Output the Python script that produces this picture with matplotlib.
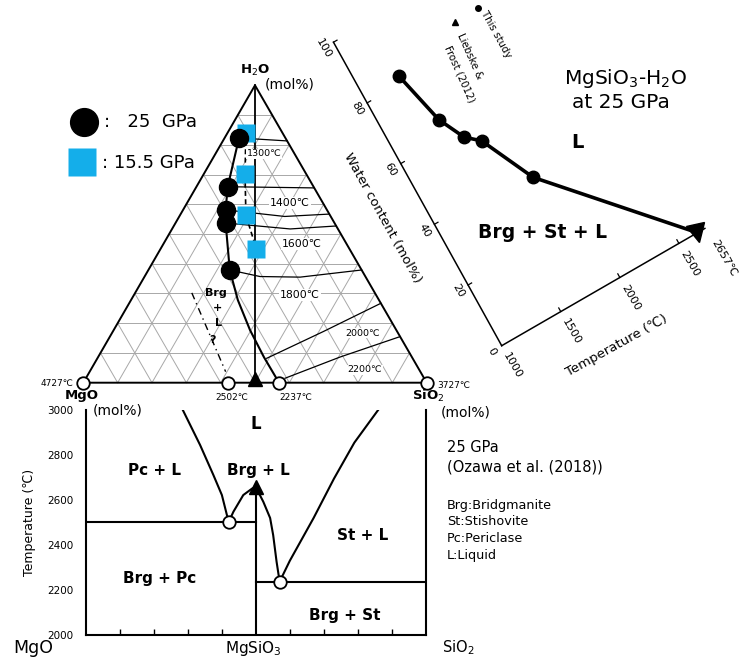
import numpy as np
import matplotlib
matplotlib.use('Agg')
import matplotlib.pyplot as plt
from matplotlib.transforms import Affine2D
from matplotlib.markers import MarkerStyle

# ---------------- data ----------------
# Ternary MgO-SiO2-H2O (mole fractions of H2O and SiO2)
c25_h2o = [0.823, 0.659, 0.581, 0.537, 0.379]          # 25 GPa liquid (black circles)
c25_sio2 = [0.042, 0.091, 0.124, 0.146, 0.237]
c25_tail_h2o = [0.379, 0.278, 0.177, 0.086, 0.0]       # cotectic down to eutectic
c25_tail_sio2 = [0.237, 0.311, 0.397, 0.483, 0.57]
c155_h2o = [0.841, 0.702, 0.563, 0.450]                # 15.5 GPa (blue squares)
c155_sio2 = [0.053, 0.120, 0.192, 0.279]
dd_h2o = [0.302, 0.037]                                # dash-dot Brg+L boundary
dd_sio2 = [0.165, 0.396]
iso_labels = ['1300℃', '1400℃', '1500℃', '1600℃', '1800℃', '2000℃', '2200℃']
iso_h2o = [[0.823, 0.813], [0.659, 0.655], [0.581, 0.559, 0.567], [0.537, 0.517, 0.527],
           [0.379, 0.357, 0.355, 0.379], [0.082, 0.172, 0.267], [0.015, 0.086, 0.155]]
iso_sio2 = [[0.042, 0.187], [0.091, 0.345], [0.124, 0.307, 0.433], [0.146, 0.344, 0.473],
            [0.237, 0.336, 0.454, 0.621], [0.493, 0.613, 0.733], [0.580, 0.704, 0.845]]
eut1_x, eut1_T = 0.42, 2502
eut2_x, eut2_T = 0.57, 2237
brg_x, brg_T = 0.5, 2657
mgo_T, sio2_T = 4727, 3727

# MgSiO3-H2O at 25 GPa
tw_T = [1300, 1400, 1500, 1600, 1800]
tw_W = [82.0, 65.5, 57.5, 54.0, 37.5]
lf_T, lf_W = 2657, 0.0
T_ticks = [1000, 1500, 2000, 2500]
W_ticks = [0, 20, 40, 60, 80, 100]

# MgO-SiO2 binary at 25 GPa (x = SiO2 mole fraction)
pcl_x = [0.285, 0.336, 0.375, 0.400, 0.42]
pcl_T = [3000, 2844, 2711, 2622, 2502]
brgl_x = [0.42, 0.434, 0.463, 0.49, 0.50, 0.522, 0.542, 0.551, 0.561, 0.57]
brgl_T = [2502, 2548, 2622, 2652, 2657, 2592, 2520, 2444, 2326, 2237]
stl_x = [0.57, 0.60, 0.67, 0.73, 0.79, 0.86]
stl_T = [2237, 2330, 2520, 2695, 2855, 3000]
bin_yticks = [2000, 2200, 2400, 2600, 2800, 3000]

BLUE = '#14AEEA'
GRID = '#a8a8a8'

W, H = 741, 657
fig = plt.figure(figsize=(W / 100, H / 100), dpi=100)
plt.rcParams['font.family'] = ['DejaVu Sans']


def fx(px):
    return px / W


def fy(py):
    return 1 - py / H


# overlay axes in pixel units (for text and the rotated diagram)
axo = fig.add_axes([0, 0, 1, 1], zorder=5)
axo.set_xlim(0, W)
axo.set_ylim(H, 0)
axo.axis('off')

# ---------------- ternary ----------------
TX0, TY0, TL = 83.3, 382.7, 343.4
TH = TL * np.sqrt(3) / 2
axt = fig.add_axes([fx(TX0), fy(TY0), TL / W, TH / H], zorder=2)
axt.set_xlim(0, 1)
axt.set_ylim(0, np.sqrt(3) / 2)
axt.axis('off')


def tern(h2o, sio2):
    h = np.asarray(h2o, float)
    s = np.asarray(sio2, float)
    return s + h / 2, h * np.sqrt(3) / 2


for i in range(1, 10):
    v = i / 10
    for hh, ss in (([v, v], [0, 1 - v]), ([0, 1 - v], [v, v]), ([0, 1 - v], [1 - v, 0])):
        x, y = tern(hh, ss)
        axt.plot(x, y, color=GRID, lw=0.7, zorder=1, clip_on=False)

x, y = tern([0, 0, 1, 0], [0, 1, 0, 0])
axt.plot(x, y, color='black', lw=1.4, zorder=3, clip_on=False)
x, y = tern([1, 0], [0, 0.5])
axt.plot(x, y, color='black', lw=1.3, zorder=3, clip_on=False)

for hh, ss in zip(iso_h2o, iso_sio2):
    x, y = tern(hh, ss)
    axt.plot(x, y, color='black', lw=0.9, zorder=3, clip_on=False)

x, y = tern(c25_h2o + c25_tail_h2o[1:], c25_sio2 + c25_tail_sio2[1:])
axt.plot(x, y, color='black', lw=1.5, zorder=4, clip_on=False)
x, y = tern(c155_h2o, c155_sio2)
axt.plot(x, y, color='black', lw=1.2, ls=(0, (3, 2)), zorder=4, clip_on=False)
x, y = tern(dd_h2o, dd_sio2)
axt.plot(x, y, color='black', lw=1.0, ls=(0, (5, 3, 1, 3)), zorder=4, clip_on=False)

x, y = tern(c155_h2o, c155_sio2)
axt.plot(x, y, 's', color=BLUE, ms=13, mec='none', zorder=5, clip_on=False)
x, y = tern(c25_h2o, c25_sio2)
axt.plot(x, y, 'o', color='black', ms=13, zorder=6, clip_on=False)

x, y = tern([0, 0, 0, 0], [0, eut1_x, eut2_x, 1])
axt.plot(x, y, 'o', mfc='white', mec='black', mew=1.3, ms=9, zorder=6, clip_on=False)
x, y = tern([0], [0.5])
axt.plot(x, y + 0.012, '^', color='black', ms=10, zorder=6, clip_on=False)

# ternary texts
axo.text(255, 70, 'H$_2$O', fontsize=9.5, fontweight='bold', ha='center', va='center')
axo.text(290, 84, '(mol%)', fontsize=10, ha='center', va='center')
axo.text(82, 396, 'MgO', fontsize=9.5, fontweight='bold', ha='center', va='center')
axo.text(428, 396, 'SiO$_2$', fontsize=9.5, fontweight='bold', ha='center', va='center')
axo.text(118, 410, '(mol%)', fontsize=10, ha='center', va='center')
axo.text(466, 412, '(mol%)', fontsize=10, ha='center', va='center')
axo.text(73, 383, f'{mgo_T}℃', fontsize=6.5, ha='right', va='center')
axo.text(437, 385, f'{sio2_T}℃', fontsize=6.5, ha='left', va='center')
axo.text(232, 398, f'{eut1_T}℃', fontsize=6.5, ha='center', va='center')
axo.text(296, 398, f'{eut2_T}℃', fontsize=6.5, ha='center', va='center')
lab_pos = {'1300℃': (264, 154, 6.8), '1400℃': (290, 203, 7.8), '1600℃': (302, 244, 7.8),
           '1800℃': (300, 295, 7.8), '2000℃': (363, 333, 6.8), '2200℃': (365, 370, 6.8)}
for lab, (px, py, fs) in lab_pos.items():
    axo.text(px, py, lab, fontsize=fs, ha='center', va='center',
             bbox=dict(facecolor='white', edgecolor='none', pad=0.6))
for txt, px, py in (('Brg', 216, 293), ('+', 218, 308), ('L', 218, 323), ('?', 213, 340)):
    axo.text(px, py, txt, fontsize=8, fontweight='bold', ha='center', va='center')

# legend of ternary
axo.plot([84], [122], 'o', color='black', ms=20, clip_on=False)
axo.plot([82], [162], 's', color=BLUE, ms=20, mec='none', clip_on=False)
axo.text(104, 122, ':   25  GPa', fontsize=13, ha='left', va='center')
axo.text(102, 163, ': 15.5 GPa', fontsize=13, ha='left', va='center')

# ---------------- rotated T - water diagram ----------------
angT = np.deg2rad(30)     # direction of temperature axis
angW = np.deg2rad(119)    # direction of water-content axis
kT, kW = 0.1364, 3.47
OX, OY = 501.7, 345.7
tr = (Affine2D().translate(-1000, 0).scale(kT, kW)
      + Affine2D.from_values(np.cos(angT), -np.sin(angT), np.cos(angW), -np.sin(angW), OX, OY)
      + axo.transData)

axo.plot([1000, 1000], [0, 100], color='black', lw=1.1, transform=tr, clip_on=False)
axo.plot([1000, 2720], [0, 0], color='black', lw=1.1, transform=tr, clip_on=False)
for w in W_ticks[1:]:
    axo.plot([1000, 1030], [w, w], color='black', lw=0.9, transform=tr, clip_on=False)
for t in T_ticks[1:]:
    axo.plot([t, t], [0, 1.2], color='black', lw=0.9, transform=tr, clip_on=False)
for w in W_ticks:
    axo.annotate(str(w), xy=(1000, w), xycoords=tr, xytext=(-10, -6),
                 textcoords='offset pixels', rotation=-60, ha='center', va='center', fontsize=8)
for t in T_ticks:
    axo.annotate(str(t), xy=(t, 0), xycoords=tr, xytext=(11, -20),
                 textcoords='offset pixels', rotation=-60, ha='center', va='center', fontsize=8)

axo.plot(tw_T + [lf_T], tw_W + [lf_W], color='black', lw=2.6, transform=tr, clip_on=False,
         solid_capstyle='round')
axo.plot(tw_T, tw_W, 'o', color='black', ms=9, transform=tr, clip_on=False)
tri = MarkerStyle('v', transform=Affine2D().rotate_deg(12))
axo.plot([lf_T], [lf_W], marker=tri, color='black', ms=13, transform=tr, clip_on=False,
         ls='none')

axo.text(383, 218, 'Water content (mol%)', fontsize=9.5, rotation=-61, ha='center', va='center')
axo.text(617, 346, 'Temperature (℃)', fontsize=9.5, rotation=29, ha='center', va='center')
axo.text(724, 258, f'{lf_T}℃', fontsize=8, rotation=-60, ha='center', va='center')
axo.text(625, 78, 'MgSiO$_3$-H$_2$O', fontsize=14.5, ha='center', va='center')
axo.text(621, 102, 'at 25 GPa', fontsize=14.5, ha='center', va='center')
axo.text(577, 143, 'L', fontsize=14, fontweight='bold', ha='center', va='center')
axo.text(543, 232, 'Brg + St + L', fontsize=13.5, fontweight='bold', ha='center', va='center')

axo.plot([477.5], [7.5], 'o', color='black', ms=4, clip_on=False)
axo.text(483, 12, 'This study', fontsize=7.3, rotation=-61, ha='left', va='center',
         rotation_mode='anchor')
axo.plot([455], [22], '^', color='black', ms=4, clip_on=False)
axo.text(460, 34, 'Liebske &', fontsize=7.3, rotation=-66, ha='left', va='center',
         rotation_mode='anchor')
axo.text(447, 46, 'Frost (2012)', fontsize=7.3, rotation=-66, ha='left', va='center',
         rotation_mode='anchor')

# ---------------- binary MgO - SiO2 ----------------
axb = fig.add_axes([fx(86), fy(635), (425.7 - 86) / W, 225 / H], zorder=1)
axb.set_xlim(0, 1)
axb.set_ylim(2000, 3000)
axb.spines['top'].set_visible(False)
for sp in ('left', 'right', 'bottom'):
    axb.spines[sp].set_linewidth(1.5)
axb.set_xticks([0.1, 0.2, 0.3, 0.4, 0.6, 0.7, 0.8, 0.9])
axb.tick_params(axis='x', direction='in', length=4, width=1, labelbottom=False)
axb.set_yticks(bin_yticks)
axb.tick_params(axis='y', length=0, pad=9, labelsize=7.5)
axb.set_ylabel('Temperature (℃)', fontsize=9, labelpad=8)

axb.plot([0, 0.5], [eut1_T, eut1_T], color='black', lw=1.5)
axb.plot([0.5, 1], [eut2_T, eut2_T], color='black', lw=1.5)
axb.plot([0.5, 0.5], [2000, brg_T], color='black', lw=1.5)
axb.plot(pcl_x, pcl_T, color='black', lw=1.5)
axb.plot(brgl_x, brgl_T, color='black', lw=1.5)
axb.plot(stl_x, stl_T, color='black', lw=1.5)
axb.plot([eut1_x, eut2_x], [eut1_T, eut2_T], 'o', mfc='white', mec='black', mew=1.3, ms=9,
         zorder=5)
axb.plot([brg_x], [brg_T], '^', color='black', ms=10, zorder=5, clip_on=False)

for txt, xx, tt, fs in (('L', 0.5, 2938, 12), ('Pc + L', 0.203, 2733, 11),
                        ('Brg + L', 0.506, 2730, 11), ('St + L', 0.815, 2444, 11),
                        ('Brg + Pc', 0.218, 2253, 11), ('Brg + St', 0.762, 2085, 11)):
    axb.text(xx, tt, txt, fontsize=fs, fontweight='bold', ha='center', va='center')

axo.text(33, 648, 'MgO', fontsize=12.5, ha='center', va='center')
axo.text(253, 649, 'MgSiO$_3$', fontsize=11, ha='center', va='center')
axo.text(458, 648, 'SiO$_2$', fontsize=10.5, ha='center', va='center')
axo.text(447, 448, '25 GPa', fontsize=10.5, ha='left', va='center')
axo.text(447, 467, '(Ozawa et al. (2018))', fontsize=10.5, ha='left', va='center')
for i, txt in enumerate(['Brg:Bridgmanite', 'St:Stishovite', 'Pc:Periclase', 'L:Liquid']):
    axo.text(447, 505 + i * 16.7, txt, fontsize=9.2, ha='left', va='center')

fig.savefig('out.png', dpi=100)
